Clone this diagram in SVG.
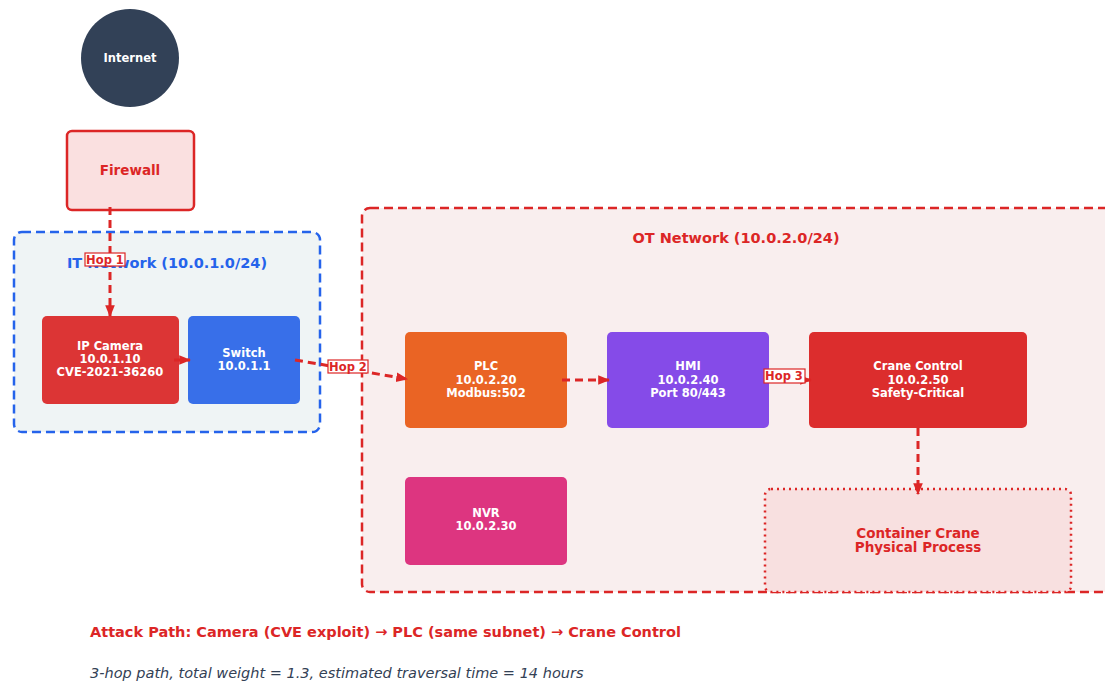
<svg xmlns="http://www.w3.org/2000/svg" width="1105" height="682" viewBox="0 0 1105 682">
<style>
text{font-family:"DejaVu Sans","Liberation Sans",sans-serif;font-weight:bold;text-anchor:middle}
.nt{fill:#ffffff;font-size:11.5px}
.edge{fill:none;stroke:#dc2626;stroke-width:3;stroke-dasharray:8,5}
.hop{fill:#ffffff;stroke:#dc2626;stroke-width:1.2}
.hopt{fill:#dc2626;font-size:11.5px}
</style>
<defs>
<marker id="ah" viewBox="0 0 10 10" refX="9" refY="5" markerWidth="4" markerHeight="4" orient="auto" markerUnits="strokeWidth">
<path d="M0,1 L10,5 L0,9 z" fill="#dc2626"/>
</marker>
</defs>
<rect width="1105" height="682" fill="#ffffff"/>

<g id="it-network">
<rect x="14" y="232" width="306" height="200" rx="8" fill="#eff4f5" stroke="#2563eb" stroke-width="2.5" stroke-dasharray="9,5"/>
<text x="167" y="268" fill="#2563eb" font-size="14.5">IT Network (10.0.1.0/24)</text>
</g>
<g id="ot-network">
<rect x="362" y="208" width="760" height="384" rx="8" fill="#f9eeee" stroke="#dc2626" stroke-width="2.5" stroke-dasharray="9,5"/>
<text x="736" y="243" fill="#dc2626" font-size="14.5">OT Network (10.0.2.0/24)</text>
</g>

<g id="internet">
<circle cx="130" cy="58" r="49" fill="#324157"/>
<text x="130" y="62" class="nt">Internet</text>
</g>
<g id="firewall">
<rect x="67" y="131" width="127" height="79" rx="5" fill="#fae0e0" stroke="#dc2626" stroke-width="2.5"/>
<text x="130" y="175" fill="#dc2626" font-size="13.5">Firewall</text>
</g>
<g id="ip-camera">
<rect x="42" y="316" width="137" height="88" rx="5" fill="#dc3535"/>
<text x="110" y="350" class="nt">IP Camera</text>
<text x="110" y="363" class="nt">10.0.1.10</text>
<text x="110" y="376" class="nt">CVE-2021-36260</text>
</g>
<g id="switch">
<rect x="188" y="316" width="112" height="88" rx="5" fill="#386fe9"/>
<text x="244" y="357" class="nt">Switch</text>
<text x="244" y="370" class="nt">10.0.1.1</text>
</g>
<g id="plc">
<rect x="405" y="332" width="162" height="96" rx="5" fill="#ea6424"/>
<text x="486" y="370" class="nt">PLC</text>
<text x="486" y="384" class="nt">10.0.2.20</text>
<text x="486" y="397" class="nt">Modbus:502</text>
</g>
<g id="hmi">
<rect x="607" y="332" width="162" height="96" rx="5" fill="#854be8"/>
<text x="688" y="370" class="nt">HMI</text>
<text x="688" y="384" class="nt">10.0.2.40</text>
<text x="688" y="397" class="nt">Port 80/443</text>
</g>
<g id="crane-control">
<rect x="809" y="332" width="218" height="96" rx="5" fill="#dc2d2d"/>
<text x="918" y="370" class="nt">Crane Control</text>
<text x="918" y="384" class="nt">10.0.2.50</text>
<text x="918" y="397" class="nt">Safety-Critical</text>
</g>
<g id="nvr">
<rect x="405" y="477" width="162" height="88" rx="5" fill="#dd3580"/>
<text x="486" y="517" class="nt">NVR</text>
<text x="486" y="530" class="nt">10.0.2.30</text>
</g>
<g id="container-crane">
<rect x="765" y="489" width="306" height="103" rx="6" fill="#f8e0e0" stroke="#dc2626" stroke-width="2.5" stroke-dasharray="2,4"/>
<text x="918" y="538" fill="#dc2626" font-size="13.5">Container Crane</text>
<text x="918" y="552" fill="#dc2626" font-size="13.5">Physical Process</text>
</g>

<g id="connectors">
<path class="edge" d="M110,207 L110,316" marker-end="url(#ah)"/>
<path class="edge" d="M174,360 L190,360" marker-end="url(#ah)" stroke-dasharray="none"/>
<path class="edge" d="M295,360 L407,379" marker-end="url(#ah)"/>
<path class="edge" d="M562,380 L609,380" marker-end="url(#ah)"/>
<path class="edge" d="M765,380 L811,380" marker-end="url(#ah)"/>
<path class="edge" d="M918,428 L918,494" marker-end="url(#ah)"/>
<rect class="hop" x="85" y="253" width="40" height="13"/>
<text class="hopt" x="105" y="264">Hop 1</text>
<rect class="hop" x="328" y="360" width="40" height="13"/>
<text class="hopt" x="348" y="371">Hop 2</text>
<rect class="hop" x="764" y="369" width="41" height="14"/>
<text class="hopt" x="784" y="380">Hop 3</text>
</g>

<text x="90" y="637" fill="#dc2626" font-size="14.5" style="text-anchor:start">Attack Path: Camera (CVE exploit) → PLC (same subnet) → Crane Control</text>
<text x="90" y="678" fill="#334155" font-size="14.5" style="text-anchor:start;font-weight:normal;font-style:italic">3-hop path, total weight = 1.3, estimated traversal time = 14 hours</text>
</svg>
